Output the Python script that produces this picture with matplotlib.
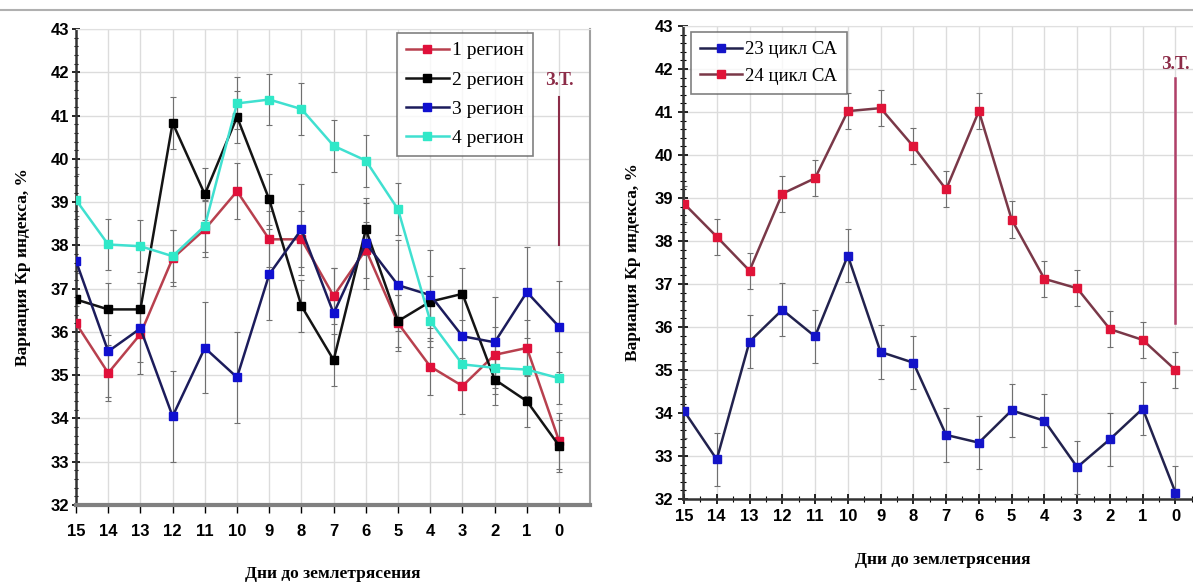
import matplotlib
matplotlib.use("Agg")
import matplotlib.pyplot as plt
from matplotlib.lines import Line2D
from matplotlib.ticker import MultipleLocator

# Days before the earthquake
days = [15, 14, 13, 12, 11, 10, 9, 8, 7, 6, 5, 4, 3, 2, 1, 0]

# Left panel: Kp variation by region
reg1 = [36.2, 35.05, 35.95, 37.7, 38.37, 39.25, 38.14, 38.14, 36.83, 37.9,
        36.2, 35.2, 34.75, 35.47, 35.63, 33.48]
reg2 = [36.75, 36.52, 36.52, 40.83, 39.18, 40.97, 39.06, 36.6, 35.35, 38.37,
        36.25, 36.7, 36.88, 34.9, 34.4, 33.37]
reg3 = [37.64, 35.55, 36.08, 34.05, 35.63, 34.95, 37.33, 38.37, 36.43, 38.05,
        37.08, 36.85, 35.9, 35.76, 36.92, 36.12]
reg4 = [39.05, 38.02, 37.98, 37.75, 38.45, 41.28, 41.37, 41.15, 40.3, 39.96,
        38.83, 36.25, 35.25, 35.17, 35.13, 34.93]
err1, err2, err3, err4 = 0.65, 0.6, 1.05, 0.6

# Right panel: solar activity cycles
cyc23 = [34.05, 32.92, 35.66, 36.4, 35.78, 37.66, 35.42, 35.17, 33.49, 33.31,
         34.06, 33.82, 32.74, 33.39, 34.1, 32.15]
cyc24 = [38.87, 38.1, 37.31, 39.1, 39.46, 41.02, 41.09, 40.2, 39.2, 41.02,
         38.5, 37.12, 36.9, 35.95, 35.7, 35.0]
err23, err24 = 0.62, 0.42

left_labels = ["1 регион", "2 регион", "3 регион", "4 регион"]
right_labels = ["23 цикл СА", "24 цикл СА"]

SERIF = "Liberation Serif"
SANS = "Liberation Sans"

fig = plt.figure(figsize=(11.93, 5.84), dpi=100)
fig.add_artist(Line2D([0, 1], [1 - 10 / 584, 1 - 10 / 584], color="#b0b0b0", lw=1.5))

ax1 = fig.add_axes([76 / 1193, 1 - 505 / 584, 514 / 1193, 476 / 584])
ax2 = fig.add_axes([683 / 1193, 1 - 499 / 584, 520 / 1193, 473 / 584])


def style_axis(ax, ylabelpad, xlabelpad):
    ax.set_ylim(32, 43)
    ax.yaxis.set_major_locator(MultipleLocator(1))
    ax.set_xticks(days)
    ax.grid(True, color="#dcdcdc", lw=1.0)
    ax.set_axisbelow(True)
    for lab in ax.get_xticklabels() + ax.get_yticklabels():
        lab.set_fontfamily(SANS)
        lab.set_fontweight("bold")
        lab.set_fontsize(12)
    ax.set_ylabel("Вариация Кр индекса, %", family=SERIF, fontweight="bold",
                  fontsize=12.5, labelpad=ylabelpad)
    ax.set_xlabel("Дни до землетрясения", family=SERIF, fontweight="bold",
                  fontsize=12.5, labelpad=xlabelpad)
    ax.spines["left"].set_color("#333333")
    ax.spines["left"].set_linewidth(1.8)


# ---- left panel
style_axis(ax1, 14, 19)
ax1.set_xlim(15, -0.96)
ax1.yaxis.set_minor_locator(MultipleLocator(0.2))
ax1.tick_params(axis="y", which="major", direction="inout", length=6, width=1.2, pad=2)
ax1.tick_params(axis="y", which="minor", direction="inout", length=3, width=0.8)
ax1.tick_params(axis="x", direction="out", length=6, width=1.0, pad=8)
ax1.spines["bottom"].set_color("#808080")
ax1.spines["bottom"].set_linewidth(3)
ax1.spines["right"].set_color("#a0a0a0")
ax1.spines["right"].set_linewidth(1.5)
ax1.spines["top"].set_color("#e0e0e0")

left_series = [
    (reg1, err1, "#b8404e", "#e0103a", left_labels[0]),
    (reg2, err2, "#141414", "#000000", left_labels[1]),
    (reg3, err3, "#1c1c5c", "#1010d0", left_labels[2]),
    (reg4, err4, "#40e0d0", "#30e8c8", left_labels[3]),
]
for vals, err, lc, mc, lab in left_series:
    ax1.errorbar(days, vals, yerr=err, fmt="none", ecolor="#707070",
                 elinewidth=0.8, capsize=2.5, capthick=0.8, zorder=2)
    ax1.plot(days, vals, color=lc, lw=1.8, marker="s", ms=5.5,
             mfc=mc, mec=mc, label=lab, zorder=3)

ax1.plot([0, 0], [41.43, 38.0], color="#8c2c48", lw=1.5, zorder=4)
ax1.text(0, 41.82, "З.Т.", color="#8c2c48", family=SERIF, fontweight="bold",
         fontsize=13, ha="center", va="center")
leg1 = ax1.legend(loc="upper left", bbox_to_anchor=(321 / 514, 1 - 4 / 476),
                  prop={"family": SERIF, "size": 14}, frameon=True, fancybox=False,
                  edgecolor="#606060", handlelength=2.2, handletextpad=0.2,
                  borderpad=0.45, labelspacing=0.6, borderaxespad=0)
leg1.get_frame().set_linewidth(1.2)

# ---- right panel
style_axis(ax2, 10, 20)
ax2.set_xlim(15.03, -0.84)
ax2.yaxis.set_minor_locator(MultipleLocator(0.2))
ax2.xaxis.set_minor_locator(MultipleLocator(0.5))
ax2.tick_params(axis="both", which="major", direction="inout", length=7, width=1.2)
ax2.tick_params(axis="both", which="minor", direction="inout", length=4, width=0.8)
ax2.tick_params(axis="x", pad=4)
ax2.spines["bottom"].set_color("#333333")
ax2.spines["bottom"].set_linewidth(1.8)
ax2.spines["right"].set_visible(False)
ax2.spines["top"].set_color("#e0e0e0")

right_series = [
    (cyc23, err23, "#22224e", "#1414c8", right_labels[0]),
    (cyc24, err24, "#7a3848", "#e01438", right_labels[1]),
]
for vals, err, lc, mc, lab in right_series:
    ax2.errorbar(days, vals, yerr=err, fmt="none", ecolor="#707070",
                 elinewidth=0.8, capsize=2.5, capthick=0.8, zorder=2)
    ax2.plot(days, vals, color=lc, lw=1.8, marker="s", ms=5.5,
             mfc=mc, mec=mc, label=lab, zorder=3)

ax2.plot([0, 0], [41.8, 36.1], color="#b04068", lw=1.8, zorder=4)
ax2.text(0, 42.1, "З.Т.", color="#8c2c48", family=SERIF, fontweight="bold",
         fontsize=13, ha="center", va="center")
leg2 = ax2.legend(loc="upper left", bbox_to_anchor=(8 / 520, 1 - 6 / 473),
                  prop={"family": SERIF, "size": 13.5}, frameon=True, fancybox=False,
                  edgecolor="#606060", handlelength=2.2, handletextpad=0.2,
                  borderpad=0.5, labelspacing=0.5, borderaxespad=0)
leg2.get_frame().set_linewidth(1.2)

fig.savefig("out.png", dpi=100, facecolor="white")
